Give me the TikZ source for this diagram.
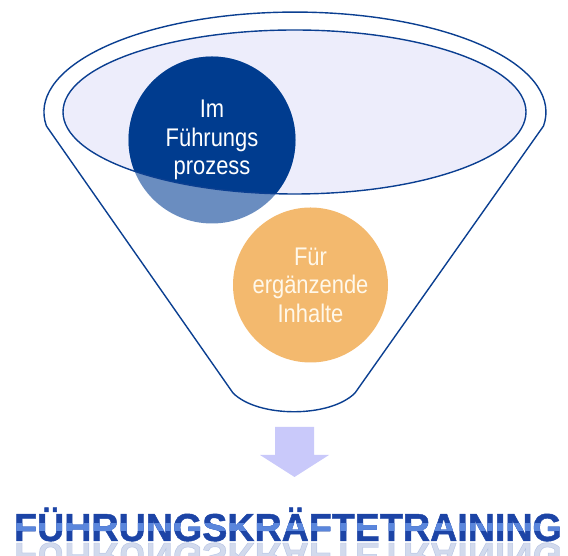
\documentclass[tikz,border=0pt]{standalone}
\usepackage{fontspec}
\setmainfont{Liberation Sans}
\newfontfamily\narrowfont[FakeStretch=0.86]{Liberation Sans}
\newfontfamily\titlefont[FakeStretch=0.965,FakeBold=1.2]{Liberation Sans}
\usetikzlibrary{calc}

\definecolor{funnelblue}{HTML}{0B3F91}
\definecolor{rimfill}{HTML}{EDEDFB}
\definecolor{procdark}{HTML}{003C8F}
\definecolor{proclight}{HTML}{6A8DC0}
\definecolor{addorange}{HTML}{F3B96E}
\definecolor{addtext}{HTML}{FFF8EA}
\definecolor{arrowlilac}{HTML}{C9C9FA}
\definecolor{titledark}{HTML}{1C44A6}
\definecolor{titlelight}{HTML}{5A86DC}

\begin{document}
\begin{tikzpicture}[x=1pt, y=1pt,
  outline/.style={draw=funnelblue, line width=1.4pt, line join=round},
  bubble/.style={align=center, font=\narrowfont\fontsize{25.5}{28.5}\selectfont},
  headline/.style={anchor=base, font=\titlefont\bfseries\fontsize{39}{39}\selectfont},
]
\useasboundingbox (0,0) rectangle (568,556);

%% Funnel body
\coordinate (lefttop) at (46.4,430);
\coordinate (righttop) at (543.6,430);
\coordinate (leftbot) at (233,163);
\coordinate (rightbot) at (355,163);
\draw[outline] (leftbot) -- (lefttop)
  arc[start angle=188, end angle=-8, x radius=251, y radius=100]
  -- (rightbot) .. controls (330,138) and (258,138) .. (leftbot) -- cycle;

%% Rim of the funnel
\fill[rimfill] (294.5,444) ellipse[x radius=231.5, y radius=82];

%% First bubble, darker inside the rim
\coordinate (proc) at (212,416);
\fill[proclight] (proc) circle[radius=83.5];
\begin{scope}
  \clip (294.5,444) ellipse[x radius=231.5, y radius=82];
  \fill[procdark] (proc) circle[radius=83.5];
\end{scope}
\draw[outline] (294.5,444) ellipse[x radius=231.5, y radius=82];
\node[bubble, text=white] (proctext) at (proc) {Im\\Führungs\\prozess};

%% Second bubble
\coordinate (add) at (310.5,271);
\fill[addorange] (add) circle[radius=77.5];
\node[bubble, text=addtext] (addtext) at (add) {Für\\ergänzende\\Inhalte};

%% Block arrow below the funnel
\fill[arrowlilac] (275,129) -- (314,129) -- (314,101) -- (329,101)
  -- (294.5,79) -- (260,101) -- (275,101) -- cycle;

%% Title with highlight band and reflection
\begin{scope}
  \clip (0,0) rectangle (568,556);
  \node[headline, text=titledark] (title) at (288,15) {FÜHRUNGSKRÄFTETRAINING};
  \begin{scope}
    \clip (0,25) rectangle (568,32);
    \node[headline, text=titlelight] at (288,15) {FÜHRUNGSKRÄFTETRAINING};
  \end{scope}
  \node[headline, text=titledark, opacity=0.2, yscale=-1] at (288,13) {FÜHRUNGSKRÄFTETRAINING};
\end{scope}

\end{tikzpicture}
\end{document}
